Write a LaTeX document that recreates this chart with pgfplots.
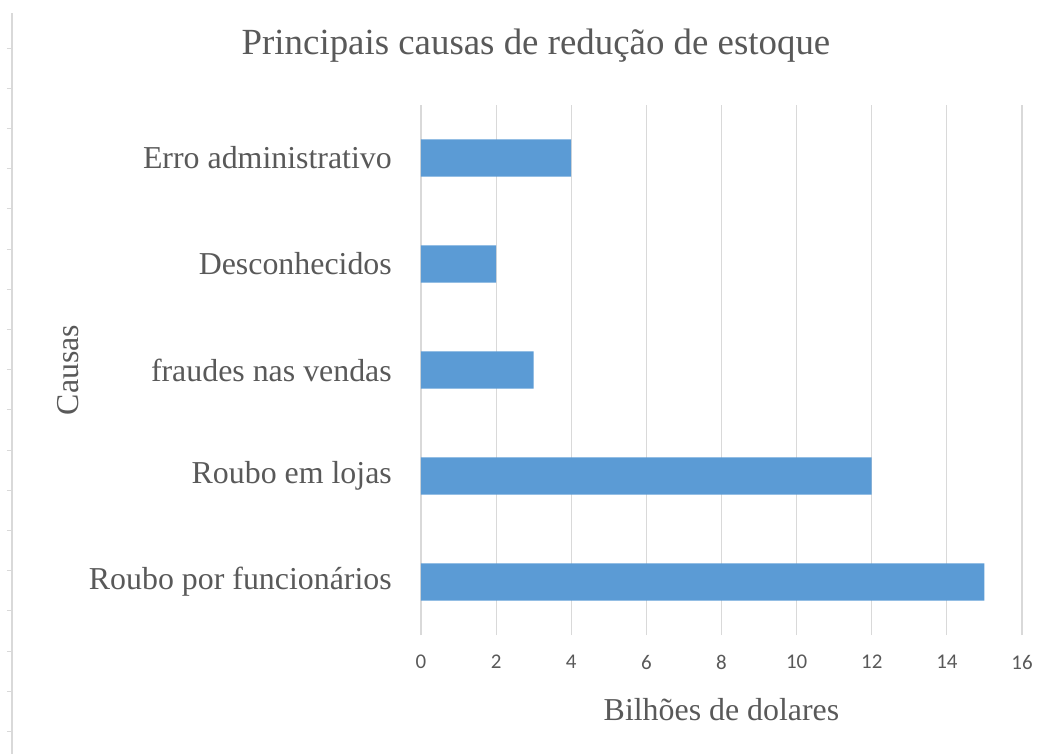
\documentclass[border=0pt]{standalone}
\usepackage{pgfplots}
\pgfplotsset{compat=1.18}
\usepackage{fontspec}
\setmainfont{Liberation Serif}
\newfontfamily\calibri{Carlito}
\definecolor{barblue}{HTML}{5B9BD5}
\definecolor{txtgray}{HTML}{595959}
\definecolor{gridgray}{HTML}{D9D9D9}
\begin{document}
\begin{tikzpicture}
\path[use as bounding box] (-421bp,-119bp) rectangle (617bp,635bp);
% faint page edge on the left
\draw[gridgray, line width=2bp] (-409bp,-119bp) -- (-409bp,622bp);
\foreach \k in {0,...,17}
  \draw[gridgray, line width=0.8bp] (-414bp,{(587-40.2*\k)*1bp}) -- (-410bp,{(587-40.2*\k)*1bp});
\begin{axis}[
    scale only axis,
    width=601bp, height=530bp,
    xbar, bar width=0.35,
    xmin=0, xmax=16, ymin=-0.5, ymax=4.5,
    xtick={0,2,...,16},
    ytick=data,
    yticklabels={Roubo por funcionários, Roubo em lojas, fraudes nas vendas, Desconhecidos, Erro administrativo},
    xmajorgrids, ymajorgrids=false,
    grid style={gridgray, line width=1.1bp},
    axis line style={draw=none},
    major tick length=0pt,
    /pgf/number format/assume math mode=true,
    xticklabel style={font=\calibri\fontsize{21}{25}\selectfont, text=txtgray, inner sep=0pt, anchor=north, yshift=-20bp},
    yticklabel style={font=\fontsize{32}{38}\selectfont, text=txtgray, inner sep=0pt, anchor=east, xshift=-29bp},
    xlabel={Bilhões de dolares},
    xlabel style={font=\fontsize{32}{38}\selectfont, text=txtgray, at={(axis description cs:0.5,-0.1415)}, anchor=center},
    ylabel={Causas},
    ylabel style={font=\fontsize{32}{38}\selectfont, text=txtgray, at={(axis description cs:-0.5874,0.5)}, anchor=center},
    title={Principais causas de redução de estoque},
    title style={font=\fontsize{37}{44}\selectfont, text=txtgray, at={(axis description cs:0.1913,1.1)}, anchor=center},
]
\addplot[fill=barblue, draw=none] coordinates {(15,0) (12,1) (3,2) (2,3) (4,4)};
\end{axis}
\end{tikzpicture}
\end{document}
